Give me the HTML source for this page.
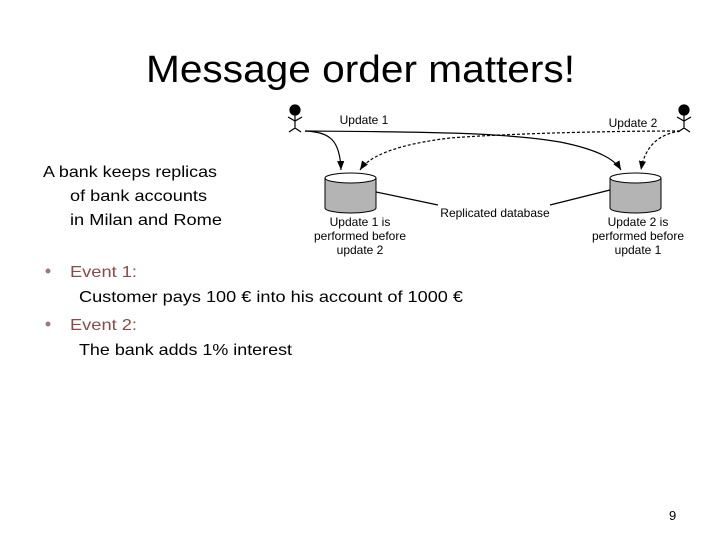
<!DOCTYPE html>
<html><head><meta charset="utf-8"><style>body{margin:0;background:#fff}svg{display:block}</style></head><body>
<svg width="720" height="540" viewBox="0 0 720 540" xmlns="http://www.w3.org/2000/svg" font-family="Liberation Sans, sans-serif">
<rect width="720" height="540" fill="#fff"/>
<text x="146" y="82" font-size="38" fill="#000" textLength="429" lengthAdjust="spacingAndGlyphs">Message order matters!</text>
<g font-size="16" fill="#000">
<text x="43" y="177" textLength="174" lengthAdjust="spacingAndGlyphs">A bank keeps replicas</text>
<text x="70" y="201" textLength="137" lengthAdjust="spacingAndGlyphs">of bank accounts</text>
<text x="70" y="225" textLength="152" lengthAdjust="spacingAndGlyphs">in Milan and Rome</text>
<text x="79" y="302" textLength="384" lengthAdjust="spacingAndGlyphs">Customer pays 100 € into his account of 1000 €</text>
<text x="79" y="355" textLength="213" lengthAdjust="spacingAndGlyphs">The bank adds 1% interest</text>
</g>
<g font-size="16" fill="#8a4a4a">
<text x="70" y="277" textLength="67" lengthAdjust="spacingAndGlyphs">Event 1:</text>
<text x="70" y="330" textLength="67" lengthAdjust="spacingAndGlyphs">Event 2:</text>
</g>
<circle cx="48" cy="271" r="2.5" fill="#9a7a7a"/>
<circle cx="48" cy="324" r="2.5" fill="#9a7a7a"/>
<text x="669" y="520" font-size="13" fill="#000">9</text>
<defs>
<marker id="b" viewBox="0 0 10 8" refX="10" refY="4" markerWidth="9" markerHeight="8" orient="auto" markerUnits="userSpaceOnUse"><path d="M0 0 L10 4 L0 8 Z" fill="#000"/></marker></defs>
<g stroke="#000" stroke-width="1.2" fill="none">
<circle cx="295" cy="110" r="5" fill="#000"/>
<path d="M295 115 V128 M289 132 L295 128 L301 132 M288 117 L295 121 L302 117"/>
<circle cx="684" cy="110" r="5" fill="#000"/>
<path d="M684 115 V128 M678 132 L684 128 L690 132 M677 117 L684 121 L691 117"/>
</g>
<g stroke="#000" stroke-width="1.2" fill="none">
<path d="M305 131 C330 132 340 140 341 170" marker-end="url(#b)"/>
<path d="M305 131 C420 132 500 132 560 142 C600 150 615 160 621 170" marker-end="url(#b)"/>
<path d="M680 131 C600 131 500 134 450 138 C400 144 370 155 360 170" stroke-dasharray="3,2" marker-end="url(#b)"/>
<path d="M680 131 C660 134 645 145 641 170" stroke-dasharray="3,2" marker-end="url(#b)"/>
<path d="M376 192 L438 205 M550 205 L610 190"/>
</g>
<g stroke="#000" stroke-width="1">
<path d="M325 178 V208 A25.5 5 0 0 0 376 208 V178" fill="#b4b4b4"/>
<ellipse cx="350.5" cy="178" rx="25.5" ry="5" fill="#fff"/>
<path d="M610 178 V208 A25.5 5 0 0 0 661 208 V178" fill="#b4b4b4"/>
<ellipse cx="635.5" cy="178" rx="25.5" ry="5" fill="#fff"/>
</g>
<g font-size="12" fill="#000" text-anchor="middle">
<text x="364" y="124">Update 1</text>
<text x="633" y="127">Update 2</text>
<text x="495" y="217">Replicated database</text>
<text x="360" y="226">Update 1 is</text>
<text x="360" y="240">performed before</text>
<text x="360" y="254">update 2</text>
<text x="638" y="226">Update 2 is</text>
<text x="638" y="240">performed before</text>
<text x="638" y="254">update 1</text>
</g>
</svg>
</body></html>
